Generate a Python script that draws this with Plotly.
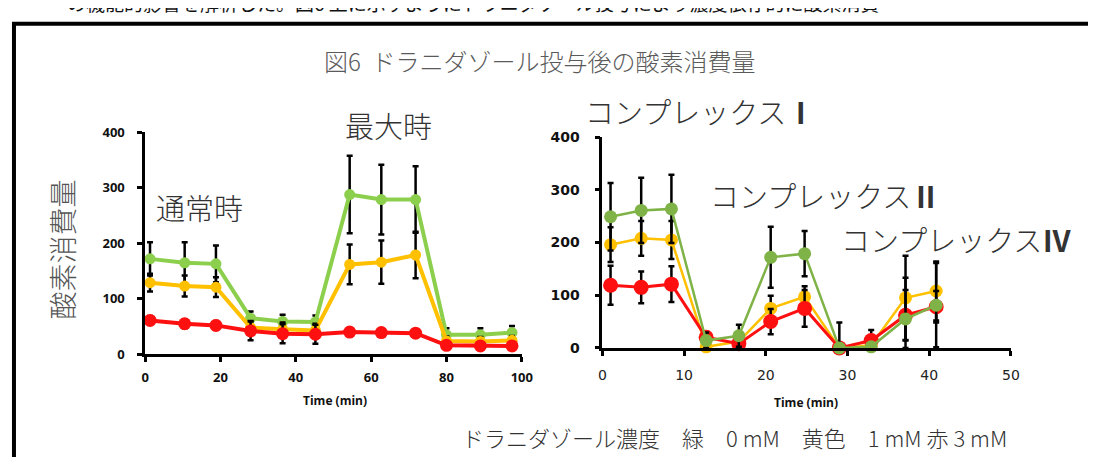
import plotly.graph_objects as go

# the page keeps the browser's default 8px body margin, so the figure is
# sized to make page + margin exactly fill the 1096x465 window
PAGE_W, PAGE_H = 1096, 465
OFF = 8
W, H = PAGE_W - 2 * OFF, PAGE_H - 2 * OFF

# ---------------- data ----------------
left_time = [1.3, 10.5, 18.8, 28.0, 36.5, 45.2, 54.3, 62.7, 71.8, 80.0, 89.0, 97.4]
left_green = [172, 165, 163, 65, 59, 58, 288, 279, 279, 35, 35, 39]
left_green_err = [30, 37, 33, 12, 12, 12, 70, 63, 60, 12, 12, 12]
left_yellow = [129, 123, 121, 48, 45, 43, 162, 166, 179, 24, 23, 25]
left_yellow_err = [16, 19, 18, 12, 12, 12, 36, 39, 42, 8, 8, 8]
left_red = [61, 55, 52, 42, 37, 36, 40, 39, 38, 16, 15, 15]
left_red_err = [8, 8, 8, 17, 17, 17, 6, 6, 6, 5, 5, 5]

right_time = [1.0, 4.75, 8.45, 12.7, 16.7, 20.6, 24.75, 29.0, 32.9, 37.1, 40.85]
right_green = [249, 261, 264, 14, 23, 172, 179, 0, 2, 55, 81]
right_green_err_plus = [64, 62, 65, 15, 21, 58, 43, 48, 5, 78, 80]
right_green_err_minus = [64, 62, 65, 14, 21, 58, 43, 0, 2, 55, 80]
right_yellow = [196, 208, 205, 2, 12, 75, 97, 0, 5, 95, 108]
right_yellow_err = [33, 33, 36, 2, 10, 24, 20, 0, 5, 80, 56]
right_red = [119, 115, 121, 20, 8, 50, 75, 0, 14, 62, 78]
right_red_err = [37, 30, 34, 10, 8, 24, 35, 0, 20, 48, 30]

y_ticks = [0, 100, 200, 300, 400]
left_x_ticks = [0, 20, 40, 60, 80, 100]
right_x_ticks = [0, 10, 20, 30, 40, 50]

GREEN_L = "#8ccf4d"
GREEN_R = "#7fb347"
YELLOW = "#ffc000"
RED = "#ff1010"


def px(x):
    return (x - OFF) / W


def py(y):
    return 1 - (y - OFF) / H


def err(arr, minus=None):
    d = dict(type="data", array=arr, color="black", thickness=2.5, width=3, visible=True)
    if minus is not None:
        d["arrayminus"] = minus
        d["symmetric"] = False
    return d


fig = go.Figure()

# left panel (order: green, yellow, red)
for yv, e, col, ms in [(left_green, left_green_err, GREEN_L, 11),
                       (left_yellow, left_yellow_err, YELLOW, 11),
                       (left_red, left_red_err, RED, 13)]:
    fig.add_trace(go.Scatter(x=left_time, y=yv, mode="lines+markers",
                             line=dict(color=col, width=4),
                             marker=dict(color=col, size=ms),
                             error_y=err(e), cliponaxis=False,
                             xaxis="x", yaxis="y", showlegend=False))

# right panel (order: yellow, red, green)
fig.add_trace(go.Scatter(x=right_time, y=right_yellow, mode="lines+markers",
                         line=dict(color=YELLOW, width=2.5),
                         marker=dict(color=YELLOW, size=13),
                         error_y=err(right_yellow_err), cliponaxis=False,
                         xaxis="x2", yaxis="y2", showlegend=False))
fig.add_trace(go.Scatter(x=right_time, y=right_red, mode="lines+markers",
                         line=dict(color=RED, width=3),
                         marker=dict(color=RED, size=15),
                         error_y=err(right_red_err), cliponaxis=False,
                         xaxis="x2", yaxis="y2", showlegend=False))
fig.add_trace(go.Scatter(x=right_time, y=right_green, mode="lines+markers",
                         line=dict(color=GREEN_R, width=2.5),
                         marker=dict(color=GREEN_R, size=13),
                         error_y=err(right_green_err_plus, right_green_err_minus), cliponaxis=False,
                         xaxis="x2", yaxis="y2", showlegend=False))

axis_common = dict(showgrid=False, zeroline=False, showline=True, linecolor="black",
                   linewidth=2.5, ticks="outside", ticklen=5, tickwidth=2.5,
                   tickcolor="black", fixedrange=True)

left_tick_font = dict(family="Open Sans, Liberation Sans, sans-serif", size=13, color="#111", weight="bold")

fig.update_layout(
    width=W, height=H,
    margin=dict(l=0, r=0, t=0, b=0),
    paper_bgcolor="white", plot_bgcolor="rgba(0,0,0,0)",
    xaxis=dict(domain=[px(143), px(525)], range=[0, 100], tickvals=left_x_ticks,
               anchor="y", tickfont=left_tick_font, ticklabelstandoff=4, **axis_common),
    yaxis=dict(domain=[py(359.3), py(128.3)], range=[0, 400], tickvals=y_ticks,
               anchor="x", tickfont=left_tick_font, ticklabelstandoff=10, **axis_common),
    xaxis2=dict(domain=[px(606.7), px(1021)], range=[0, 50], tickvals=right_x_ticks,
                anchor="y2", ticklabelstandoff=8,
                tickfont=dict(family="DejaVu Sans, Verdana, sans-serif", size=14, color="#222"),
                **axis_common),
    yaxis2=dict(domain=[py(352.7), py(133.3)], range=[0, 400], tickvals=y_ticks,
                anchor="x2", ticklabelstandoff=12,
                tickfont=dict(family="DejaVu Sans, Verdana, sans-serif", size=14, color="#111", weight="bold"),
                **axis_common),
)

# frame (left and top borders visible)
fig.add_shape(type="rect", xref="paper", yref="paper",
              x0=px(10), x1=px(1200), y0=py(600), y1=py(15),
              line=dict(color="black", width=4), fillcolor="rgba(0,0,0,0)", layer="above")

JP = "Noto Sans CJK JP, sans-serif"
annotations = [
    # body text above the frame, cut off by the top edge of the picture
    dict(text="の機能的影響を解析した。図6 上に示すようにドラニダゾール投与により濃度依存的に酸素消費",
         x=px(62), y=py(9), xanchor="left", yanchor="bottom",
         font=dict(family=JP, size=19, color="#111")),
    dict(text="図6  ドラニダゾール投与後の酸素消費量", x=px(322), y=py(53), xanchor="left", yanchor="middle",
         font=dict(family=JP, size=24, color="#5a5a5a", weight=300)),
    dict(text="酸素消費量", x=px(59), y=py(250), textangle=-90, xanchor="center", yanchor="middle",
         font=dict(family=JP, size=28, color="#555", weight=300)),
    dict(text="通常時", x=px(152), y=py(206), xanchor="left", yanchor="middle",
         font=dict(family=JP, size=29, color="#333", weight=300)),
    dict(text="最大時", x=px(344), y=py(120), xanchor="left", yanchor="middle",
         font=dict(family=JP, size=29, color="#333", weight=300)),
    dict(text="コンプレックス<b>Ⅰ</b>", x=px(587), y=py(106), xanchor="left", yanchor="middle",
         font=dict(family=JP, size=29, color="#333", weight=300)),
    dict(text="コンプレックス<b>Ⅱ</b>", x=px(714), y=py(193), xanchor="left", yanchor="middle",
         font=dict(family=JP, size=29, color="#333", weight=300)),
    dict(text="コンプレックス<b>Ⅳ</b>", x=px(847), y=py(239), xanchor="left", yanchor="middle",
         font=dict(family=JP, size=29, color="#333", weight=300)),
    dict(text="Time (min)", x=px(336), y=py(408), xanchor="center", yanchor="middle",
         font=dict(family="Open Sans, sans-serif", size=12, color="#111", weight="bold")),
    dict(text="Time (min)", x=px(813), y=py(410), xanchor="center", yanchor="middle",
         font=dict(family="Open Sans, sans-serif", size=12, color="#111", weight="bold")),
    dict(text="ドラニダゾール濃度　緑　0 mM　黄色　1 mM 赤 3 mM", x=px(462), y=py(446),
         xanchor="left", yanchor="middle",
         font=dict(family=JP, size=22, color="#333", weight=300)),
]
for a in annotations:
    a.update(xref="paper", yref="paper", showarrow=False)
    fig.add_annotation(**a)

fig.write_html("out.html", config={"displayModeBar": False})
